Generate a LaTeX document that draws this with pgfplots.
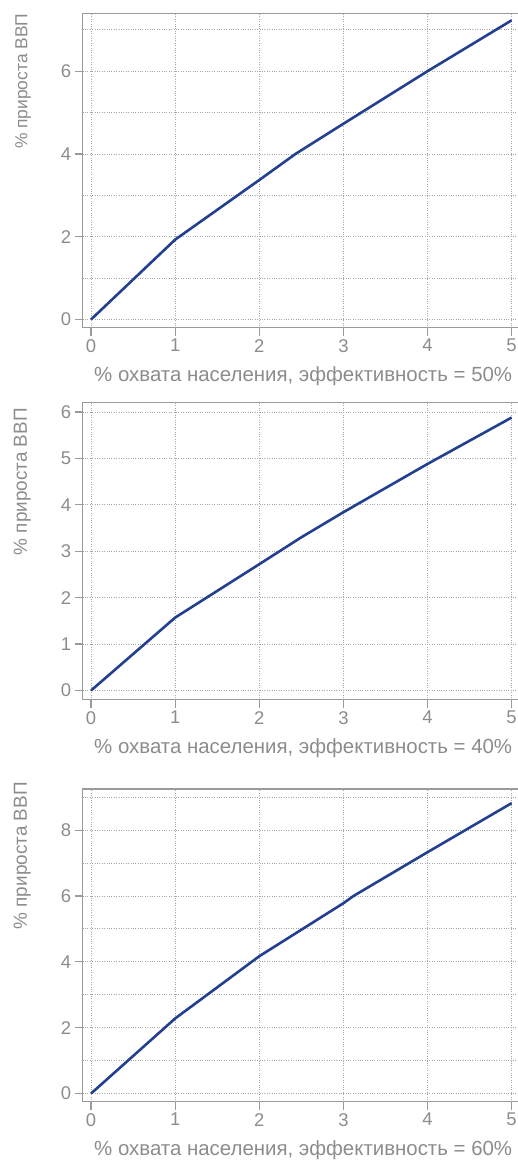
\documentclass[border=0pt]{standalone}
\usepackage{pgfplots}
\pgfplotsset{compat=1.18}
\usepackage{fontspec}
\setmainfont{Liberation Sans}
\definecolor{txt}{HTML}{8C8C8C}
\definecolor{frame}{HTML}{9A9A9A}
\definecolor{gridc}{HTML}{A8A8A8}
\definecolor{lineb}{HTML}{233F8F}
\pgfplotsset{
  panel/.style={
    scale only axis,
    width=441bp,
    xmin=-0.1, xmax=5.144,
    xtick={0,1,2,3,4,5},
    tick align=outside,
    major tick length=8bp,
    minor tick length=0bp,
    axis line style={draw=frame, line width=1.3bp},
    every tick/.style={draw=frame, line width=1.3bp},
    grid=both,
    major grid style={draw=gridc, dotted, line width=0.9bp},
    minor grid style={draw=gridc, dotted, line width=0.9bp},
    ticklabel style={text=txt, font=\fontsize{18.5}{20}\selectfont},
    /pgf/number format/assume math mode=true,
    xtick pos=bottom, ytick pos=left,
    xlabel style={text=txt, font=\fontsize{20.5}{22}\selectfont, at={(rel axis cs:0.5,0)}, anchor=north, yshift=-39bp, inner sep=0pt},
    ylabel style={text=txt, font=\fontsize{19}{21}\selectfont, anchor=south east, inner sep=0pt},
  },
  dataline/.style={draw=lineb, line width=2.6bp, line join=round, mark=none},
}
\begin{document}
\begin{tikzpicture}
% panel 1
\begin{axis}[panel, at={(82.7bp,-13.3bp)}, anchor=north west,
  height=314.4bp, ymin=-0.2, ymax=7.4,
  ytick={0,2,4,6}, minor ytick={1,3,5,7},
  xlabel={\% охвата населения, эффективность = 50\%},
  ylabel={\% прироста ВВП},
  ylabel style={at={(rel axis cs:-0.117,1.0)}, font=\fontsize{17.5}{20}\selectfont}]
\addplot[dataline] coordinates {(0,0) (1,1.93) (2,3.37) (2.43,4.0) (3,4.73) (4,6.0) (5,7.23)};
\end{axis}
% panel 2
\begin{axis}[panel, at={(82.7bp,-402.7bp)}, anchor=north west,
  height=297bp, ymin=-0.2, ymax=6.2,
  ytick={0,1,2,3,4,5,6},
  xlabel={\% охвата населения, эффективность = 40\%},
  ylabel={\% прироста ВВП},
  ylabel style={at={(rel axis cs:-0.117,0.982)}}]
\addplot[dataline] coordinates {(0,0) (1,1.57) (2,2.72) (2.5,3.3) (3,3.84) (4,4.88) (5,5.88)};
\end{axis}
% panel 3
\begin{axis}[panel, at={(82.7bp,-789bp)}, anchor=north west,
  height=312.7bp, ymin=-0.25, ymax=9.25,
  ytick={0,2,4,6,8}, minor ytick={1,3,5,7,9},
  xlabel={\% охвата населения, эффективность = 60\%},
  ylabel={\% прироста ВВП},
  ylabel style={at={(rel axis cs:-0.117,1.022)}}]
\addplot[dataline] coordinates {(0,0) (1,2.28) (2,4.17) (3,5.78) (3.12,6.0) (4,7.33) (5,8.82)};
\end{axis}
\pgfresetboundingbox
\useasboundingbox (0,0) rectangle (518bp,-1162bp);
\end{tikzpicture}
\end{document}
